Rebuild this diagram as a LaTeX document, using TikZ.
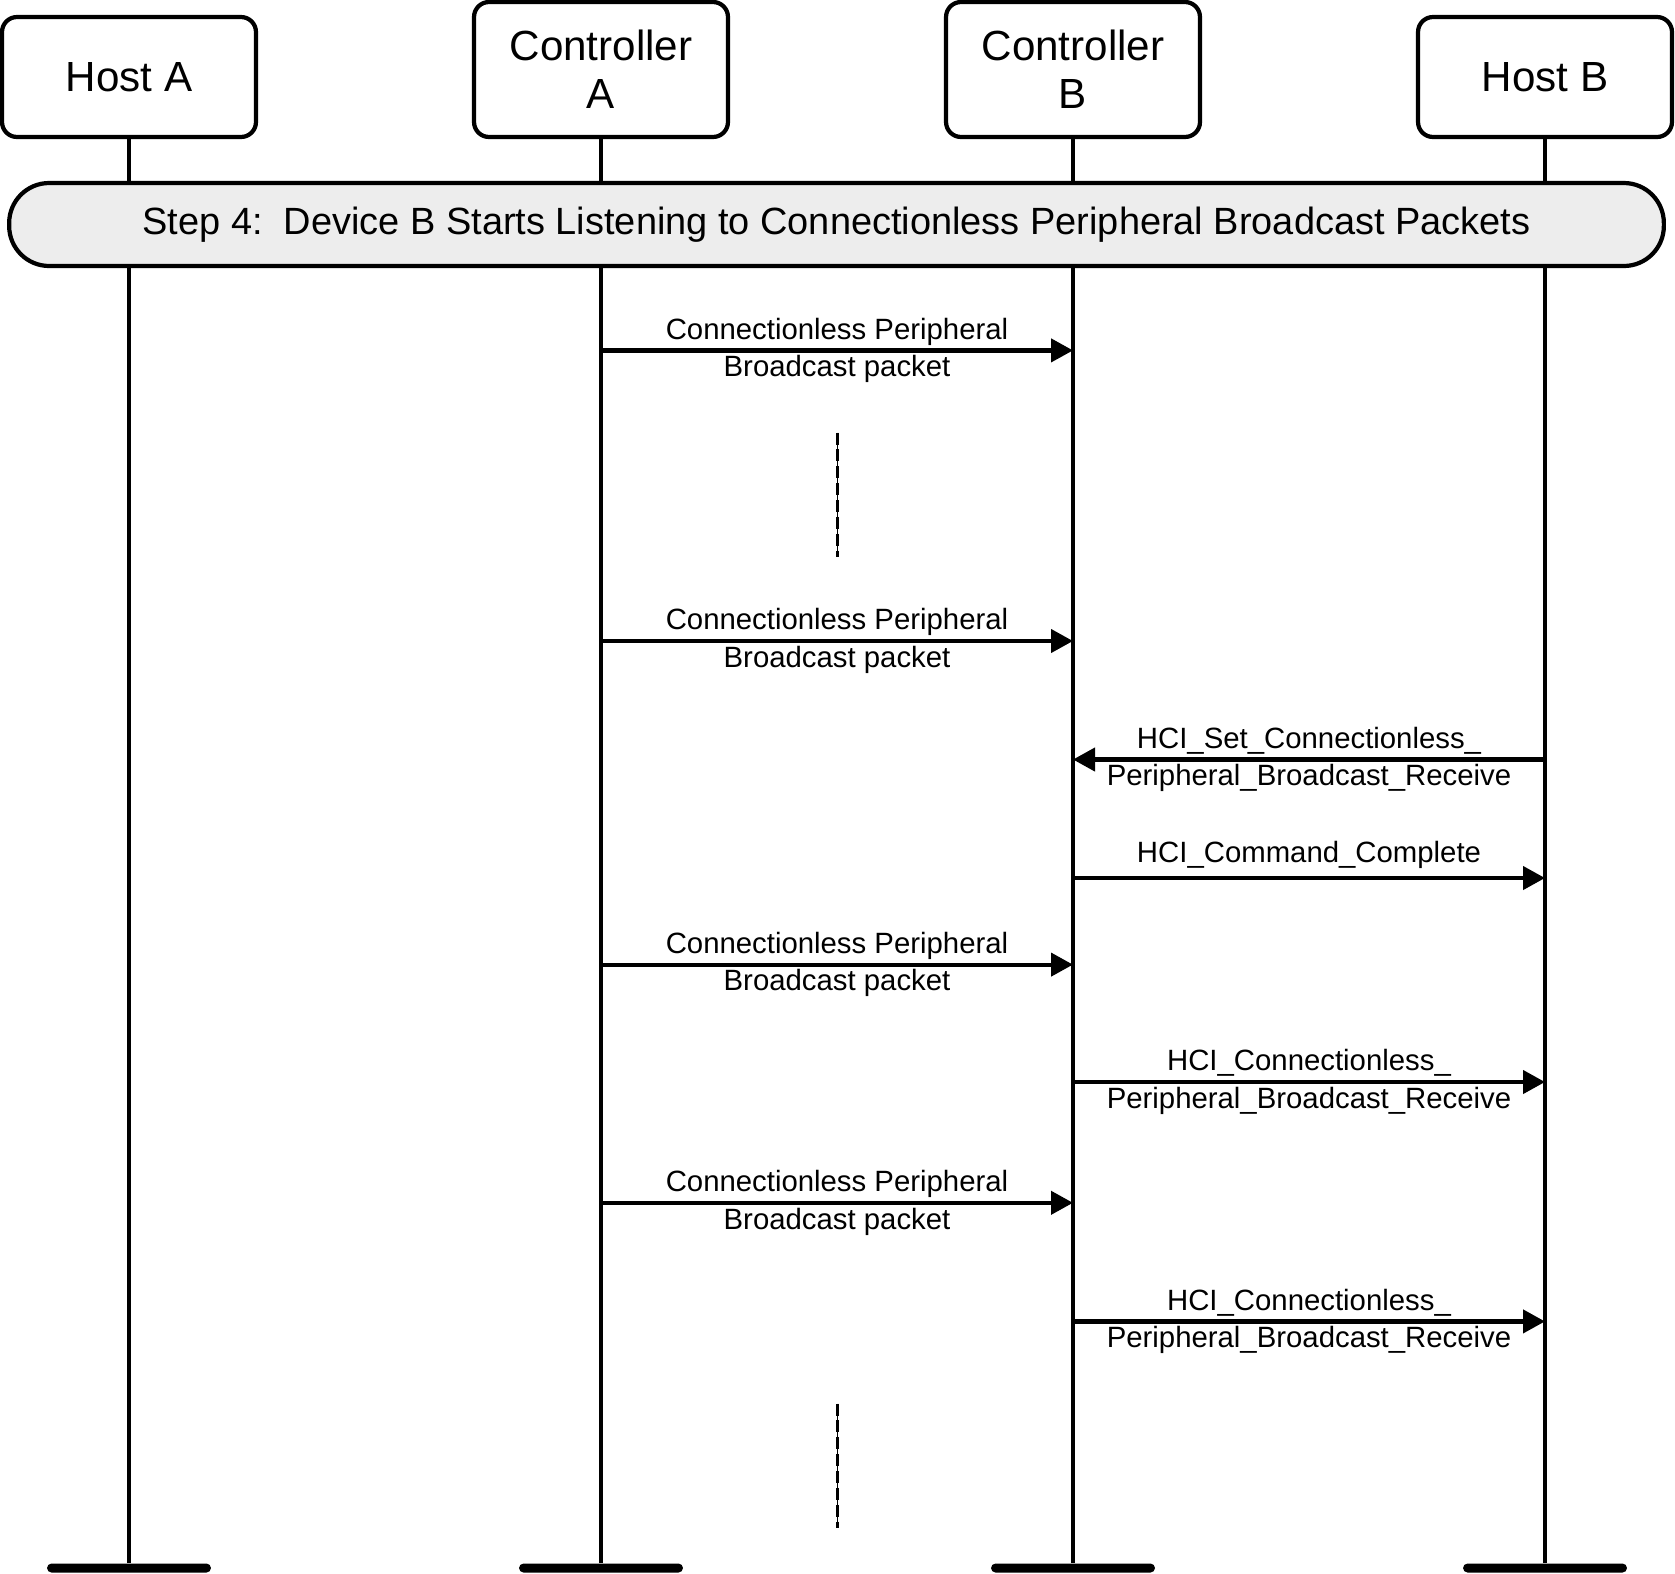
\documentclass[tikz,border=0pt]{standalone}
\usepackage{fontspec}
\setmainfont{Liberation Sans}
\usetikzlibrary{arrows.meta, positioning}

\begin{document}
\begin{tikzpicture}[
    x=0.02cm, y=-0.02cm,
    entity/.style={rectangle, rounded corners=0.3cm, draw=black, line width=2.4pt, fill=white, minimum width=5.08cm, align=center, font=\fontsize{24}{27.3}\selectfont},
    endbar/.style={rectangle, fill=black, rounded corners=0.09cm, minimum width=3.28cm, minimum height=0.18cm, inner sep=0pt},
    life/.style={line width=2.4pt},
    stepbar/.style={rectangle, rounded corners=0.8cm, draw=black, line width=2.4pt, fill=gray!14, minimum width=33.1cm, minimum height=1.66cm, font=\fontsize{21.6}{25}\selectfont},
    msg/.style={-{Triangle[length=0.44cm, width=0.46cm]}, line width=2.4pt},
    lbl/.style={align=center, inner sep=0pt, font=\fontsize{16.7}{21.3}\selectfont},
    waitline/.style={line width=2.2pt, dash pattern=on 6.8pt off 2.8pt, postaction={draw, solid, line width=0.6pt}}
]
    \useasboundingbox (0,0) rectangle (1675,1573);

    % participants
    \node[entity, minimum height=2.4cm] (hostA) at (129,77) {Host A};
    \node[entity, minimum height=2.7cm] (ctrlA) at (601,69.5) {Controller\\A};
    \node[entity, minimum height=2.7cm] (ctrlB) at (1073,69.5) {Controller\\B};
    \node[entity, minimum height=2.4cm] (hostB) at (1545,77) {Host B};

    % lifeline ends
    \coordinate (bot) at (0,1568);
    \node[endbar] (endA) at (hostA |- bot) {};
    \node[endbar] (endCA) at (ctrlA |- bot) {};
    \node[endbar] (endCB) at (ctrlB |- bot) {};
    \node[endbar] (endB) at (hostB |- bot) {};

    \draw[life] (hostA) -- (endA);
    \draw[life] (ctrlA) -- (endCA);
    \draw[life] (ctrlB) -- (endCB);
    \draw[life] (hostB) -- (endB);

    \node[stepbar] (step) at (836.5,224.5) {Step 4:\ \ Device B Starts Listening to Connectionless Peripheral Broadcast Packets};

    % message levels
    \coordinate (t1) at (0,350.4);
    \coordinate (t2) at (0,641);
    \coordinate (t3) at (0,759.5);
    \coordinate (t4) at (0,878);
    \coordinate (t5) at (0,964.6);
    \coordinate (t6) at (0,1082);
    \coordinate (t7) at (0,1202.8);
    \coordinate (t8) at (0,1321.4);

    \draw[msg] (ctrlA |- t1) -- node[lbl] {Connectionless Peripheral\\Broadcast packet} (ctrlB |- t1);
    \draw[msg] (ctrlA |- t2) -- node[lbl] {Connectionless Peripheral\\Broadcast packet} (ctrlB |- t2);
    \draw[msg] (hostB |- t3) -- node[lbl] {HCI\_Set\_Connectionless\_\\Peripheral\_Broadcast\_Receive} (ctrlB |- t3);
    \draw[msg] (ctrlB |- t4) -- node[lbl, above=0.15cm] {HCI\_Command\_Complete} (hostB |- t4);
    \draw[msg] (ctrlA |- t5) -- node[lbl] {Connectionless Peripheral\\Broadcast packet} (ctrlB |- t5);
    \draw[msg] (ctrlB |- t6) -- node[lbl] {HCI\_Connectionless\_\\Peripheral\_Broadcast\_Receive} (hostB |- t6);
    \draw[msg] (ctrlA |- t7) -- node[lbl] {Connectionless Peripheral\\Broadcast packet} (ctrlB |- t7);
    \draw[msg] (ctrlB |- t8) -- node[lbl] {HCI\_Connectionless\_\\Peripheral\_Broadcast\_Receive} (hostB |- t8);

    % time gaps
    \coordinate (g1top) at (837.5,432.6);
    \coordinate (g1bot) at (837.5,556.5);
    \coordinate (g2top) at (837.5,1403.6);
    \coordinate (g2bot) at (837.5,1527.5);
    \draw[waitline] (g1top) -- (g1bot);
    \draw[waitline] (g2top) -- (g2bot);
\end{tikzpicture}
\end{document}
